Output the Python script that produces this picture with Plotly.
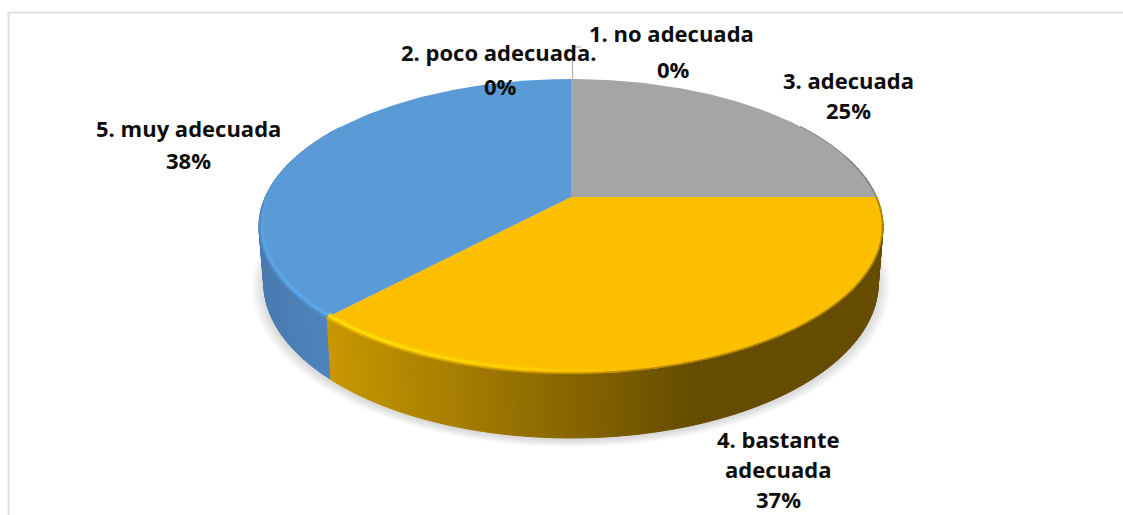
import math
import plotly.graph_objects as go

categories = ["1. no adecuada", "2. poco adecuada.", "3. adecuada", "4. bastante adecuada", "5. muy adecuada"]
values = [0, 0, 25, 37, 38]
percent_labels = ["0%", "0%", "25%", "37%", "38%"]
slice_colors = ["#a5a5a5", "#ed7d31", "#a5a5a5", "#fbbf00", "#5a9ad6"]
side_left = [(110, 110, 110), (110, 110, 110), (110, 110, 110), (200, 152, 0), (72, 122, 175)]
side_right = [(110, 110, 110), (110, 110, 110), (110, 110, 110), (102, 76, 0), (78, 133, 190)]
rim_colors = [(165, 165, 165), (165, 165, 165), (120, 120, 120), (255, 228, 0), (92, 172, 242)]

CX, K = 571.0, 0.2
TOP = dict(R=305.7, y0=197.0, H=141.6)
BOT = dict(R=301.0, y0=252.0, H=148.8)


def proj(theta, R, y0, H, dy=0.0):
    u, v = math.sin(theta), -math.cos(theta)
    d = 1 - K * v
    return CX + R * u / d, y0 + dy + H * v / d


def lerp(a, b, t):
    t = max(0.0, min(1.0, t))
    return tuple(a[i] + (b[i] - a[i]) * t for i in range(3))


def rgb(c):
    return "rgb(%d,%d,%d)" % tuple(round(v) for v in c)


def side_color(i, x):
    return lerp(side_left[i], side_right[i], (x - 327) / 366 if i == 3 else (x - 263) / 64)


total = sum(values)
edges = [0.0]
for val in values:
    edges.append(edges[-1] + val / total * 2 * math.pi)

fig = go.Figure()


def poly(xs, ys, color, width=0.0):
    fig.add_trace(go.Scatter(x=xs, y=ys, mode="lines", fill="toself", fillcolor=color,
                             line=dict(color=color, width=width),
                             hoverinfo="skip", showlegend=False))


# soft shadow
for i in range(12):
    s = 1.04 - i * 0.0033
    pts = [proj(2 * math.pi * j / 120, BOT["R"] * s, BOT["y0"], BOT["H"] * s, dy=2) for j in range(121)]
    poly([p[0] for p in pts], [p[1] for p in pts], "rgba(130,130,130,0.028)")

# side wall, drawn in narrow strips
for i, val in enumerate(values):
    a0, a1 = edges[i], edges[i + 1]
    if val == 0:
        continue
    n = max(2, int((a1 - a0) / math.radians(1.5)))
    for j in range(n):
        t0 = a0 + (a1 - a0) * j / n
        t1 = a0 + (a1 - a0) * (j + 1) / n
        mid = (t0 + t1) / 2
        if math.cos(mid) > 0.55:
            continue
        p0, p1 = proj(t0, **TOP), proj(t1, **TOP)
        q1, q0 = proj(t1, **BOT), proj(t0, **BOT)
        col = rgb(side_color(i, (p0[0] + p1[0]) / 2))
        poly([p0[0], p1[0], q1[0], q0[0], p0[0]], [p0[1], p1[1], q1[1], q0[1], p0[1]], col, 1.0)

# top faces
for i, val in enumerate(values):
    if val == 0:
        continue
    a0, a1 = edges[i], edges[i + 1]
    n = max(2, int((a1 - a0) / math.radians(1)))
    pts = [proj(a0 + (a1 - a0) * j / n, **TOP) for j in range(n + 1)]
    xs = [CX] + [p[0] for p in pts] + [CX]
    ys = [TOP["y0"]] + [p[1] for p in pts] + [TOP["y0"]]
    fig.add_trace(go.Scatter(x=xs, y=ys, mode="lines", fill="toself", fillcolor=slice_colors[i],
                             line=dict(color=slice_colors[i], width=0), name=categories[i],
                             hovertext=f"{categories[i]}: {percent_labels[i]}", hoverinfo="text",
                             showlegend=False))

# bevel on the front of the top face: soft highlight inside, blend to the wall at the edge
for inset, weight, width in ((4.5, 0.35, 2.0), (3.0, 1.0, 2.0)):
    for i, val in enumerate(values):
        if val == 0 or i == 2:
            continue
        a0, a1 = edges[i], edges[i + 1]
        n = max(2, int((a1 - a0) / math.radians(2)))
        base = tuple(int(slice_colors[i][k:k + 2], 16) for k in (1, 3, 5))
        for j in range(n):
            t0 = a0 + (a1 - a0) * j / n
            t1 = a0 + (a1 - a0) * (j + 1) / n + 0.003
            deg = math.degrees((t0 + t1) / 2)
            h = (deg - 172) / 38 if i == 3 else (285 - deg) / 60
            if h <= 0:
                continue
            kw = dict(R=TOP["R"] - inset, y0=TOP["y0"], H=TOP["H"] - inset)
            p0, p1 = proj(t0, **kw), proj(t1, **kw)
            col = rgb(lerp(base, rim_colors[i], min(h, 1) * weight))
            fig.add_trace(go.Scatter(x=[p0[0], p1[0]], y=[p0[1], p1[1]], mode="lines",
                                     line=dict(color=col, width=width), hoverinfo="skip", showlegend=False))

# thin dark blend where the top face meets the wall
for i, val in enumerate(values):
    if val == 0:
        continue
    a0, a1 = edges[i], edges[i + 1]
    n = max(2, int((a1 - a0) / math.radians(2)))
    base = tuple(int(slice_colors[i][k:k + 2], 16) for k in (1, 3, 5))
    for j in range(n):
        t0 = a0 + (a1 - a0) * j / n
        t1 = a0 + (a1 - a0) * (j + 1) / n + 0.003
        deg = math.degrees((t0 + t1) / 2)
        if deg < 72 or deg > 268:
            continue
        kw = dict(R=TOP["R"] - 0.5, y0=TOP["y0"], H=TOP["H"] - 0.5)
        p0, p1 = proj(t0, **kw), proj(t1, **kw)
        col = rgb(lerp(base, side_color(i, p0[0]), 0.5))
        fig.add_trace(go.Scatter(x=[p0[0], p1[0]], y=[p0[1], p1[1]], mode="lines",
                                 line=dict(color=col, width=1.6), hoverinfo="skip", showlegend=False))

# leader line for the zero slices
fig.add_trace(go.Scatter(x=[572.6, 572.6, 581], y=[79, 47, 47], mode="lines",
                         line=dict(color="#a6a6a6", width=1), hoverinfo="skip", showlegend=False))

# frame
fig.add_trace(go.Scatter(x=[8.5, 8.5, 1123], y=[515, 12.5, 12.5], mode="lines",
                         line=dict(color="#e0e0e0", width=2), hoverinfo="skip", showlegend=False))

FONT = dict(family="Open Sans, Lato, sans-serif", size=22, color="#0d0d0d")
label_lines = [
    (671, 33, "1. no adecuada"), (673, 69, percent_labels[0]),
    (499, 52, "2. poco adecuada."), (500, 86, percent_labels[1]),
    (848, 80, "3. adecuada"), (848, 110, percent_labels[2]),
    (778, 439, "4. bastante"), (778, 469, "adecuada"), (778, 499, percent_labels[3]),
    (188, 128, "5. muy adecuada"), (188, 160, percent_labels[4]),
]
for x, y, text in label_lines:
    fig.add_annotation(x=x, y=y, xref="x", yref="y", text=f"<b>{text}</b>", showarrow=False,
                       font=FONT, xanchor="center", yanchor="middle")

fig.update_layout(
    width=1123, height=515, margin=dict(l=0, r=0, t=0, b=0), autosize=False,
    paper_bgcolor="white", plot_bgcolor="white", showlegend=False,
    xaxis=dict(range=[0, 1123], visible=False, fixedrange=True),
    yaxis=dict(range=[515, 0], visible=False, fixedrange=True),
)
fig.write_html("out.html", config=dict(displayModeBar=False), include_plotlyjs=True,
               post_script="document.body.style.margin='0';document.body.style.overflow='hidden';")
